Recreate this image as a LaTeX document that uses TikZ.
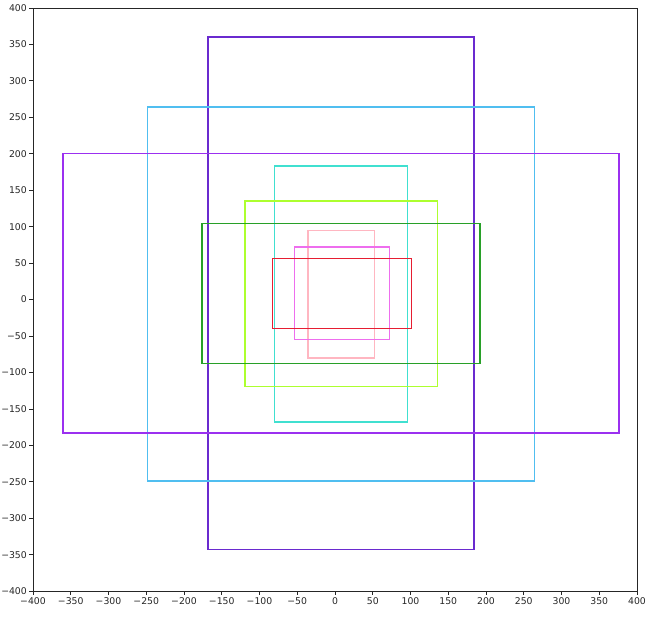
\documentclass[tikz,border=0pt]{standalone}
\usepackage{fontspec}
\setmainfont{DejaVu Sans}
\definecolor{cdpurple}{RGB}{106,42,207}
\definecolor{clblue}{RGB}{80,190,240}
\definecolor{cpurple}{RGB}{155,48,240}
\definecolor{cturq}{RGB}{64,224,208}
\definecolor{cgy}{RGB}{173,255,47}
\definecolor{cgreen}{RGB}{40,160,40}
\definecolor{cpinkl}{RGB}{255,182,193}
\definecolor{cviolet}{RGB}{238,110,238}
\definecolor{cred}{RGB}{230,30,50}
\tikzset{
  box/.style={line width=1.4pt},
  frame/.style={line width=0.9pt, draw=black!85},
  tick/.style={line width=0.8pt, draw=black!85},
  ticklab/.style={font=\fontsize{9.3}{11}\selectfont, text=black!85, inner sep=0pt}
}
\begin{document}
\begin{tikzpicture}
\useasboundingbox (0pt,0pt) rectangle (650pt,-617pt);
\begin{scope}[shift={(335pt,-299.6pt)}, x=0.755pt, y=0.729pt]
  % rectangles
  \draw[box, cdpurple] (-168,-343) rectangle (184,360);
  \draw[box, clblue] (-248,-249) rectangle (264,264);
  \draw[box, cpurple] (-360,-183) rectangle (376,200);
  \draw[box, cturq] (-80,-168) rectangle (96,183);
  \draw[box, cgy] (-119,-119) rectangle (136,135);
  \draw[box, cgreen] (-176,-88) rectangle (192,104);
  \draw[box, cpinkl] (-36,-80) rectangle (52,95);
  \draw[box, cviolet] (-54,-55) rectangle (72,72);
  \draw[box, cred] (-83,-40) rectangle (101,56);
  % frame
  \draw[frame] (-400,-400) rectangle (400,400);
  % ticks
  \foreach \v [count=\i] in {-400,-350,...,400} {
    \draw[tick] (\v,-400) -- ++(0,-3.5pt) coordinate (xt\i);
    \node[ticklab, anchor=north] (xl\i) at ([yshift=-3pt]xt\i) {\ifnum\v<0 −\the\numexpr-\v\relax\else\v\fi};
    \draw[tick] (-400,\v) -- ++(-3.5pt,0) coordinate (yt\i);
    \node[ticklab, anchor=east] (yl\i) at ([xshift=-2.5pt]yt\i) {\ifnum\v<0 −\the\numexpr-\v\relax\else\v\fi};
  }
\end{scope}
\end{tikzpicture}
\end{document}
